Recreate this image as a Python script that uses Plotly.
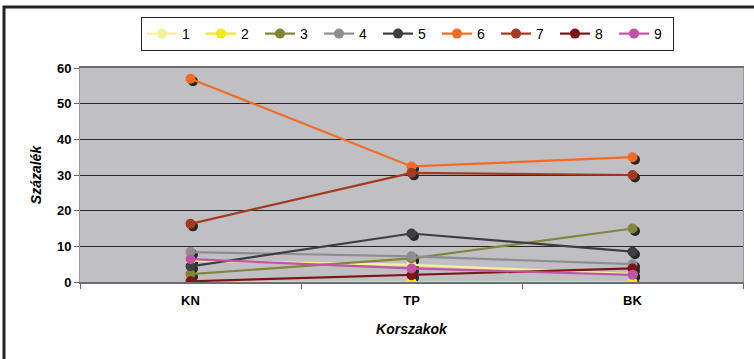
import plotly.graph_objects as go

# Periods (x categories) and share of each group (%) per period
periods = ["KN", "TP", "BK"]
series_names = ["1", "2", "3", "4", "5", "6", "7", "8", "9"]
s1 = [6.0, 4.8, 2.2]
s2 = [0.0, 0.0, 0.0]
s3 = [2.2, 6.6, 15.0]
s4 = [8.4, 7.2, 5.0]
s5 = [4.4, 13.6, 8.5]
s6 = [57.0, 32.4, 35.0]
s7 = [16.3, 30.6, 30.0]
s8 = [0.2, 1.9, 3.8]
s9 = [6.4, 3.8, 2.0]
values = [s1, s2, s3, s4, s5, s6, s7, s8, s9]
colors = ["#F7F29A", "#F2E81A", "#84843A", "#8E8E90", "#3E3E40",
          "#F36C23", "#A33B22", "#7E1417", "#C254A6"]

W, H = 754, 359
ML, MR, MT, MB = 80, 11, 68, 77
plot_w = W - ML - MR
plot_h = H - MT - MB

# drop-shadow offset (pixels) realised through a shifted copy of the axes
sh = 2.5
dx = sh * 3 / plot_w
dy = sh * 60 / plot_h

font = "Liberation Sans, Arial, sans-serif"
fig = go.Figure()

# shadows on the base axes (drawn underneath)
for vals in values:
    fig.add_trace(go.Scatter(
        x=periods, y=vals, mode="markers", xaxis="x", yaxis="y",
        marker=dict(size=10, color="#262626"), showlegend=False,
        hoverinfo="skip"))

# series on the overlaying axes
for name, vals, col in zip(series_names, values, colors):
    fig.add_trace(go.Scatter(
        x=periods, y=vals, name=name, mode="lines+markers",
        xaxis="x2", yaxis="y2",
        line=dict(color=col, width=2.2),
        marker=dict(size=10, color=col)))

fig.update_layout(
    width=W, height=H,
    margin=dict(l=ML, r=MR, t=MT, b=MB),
    paper_bgcolor="white",
    plot_bgcolor="#C0C0C4",
    font=dict(family=font, color="#000"),
    xaxis=dict(type="category", categoryarray=periods,
               range=[-0.5 - dx, 2.5 - dx], visible=False, fixedrange=True),
    yaxis=dict(range=[0 + dy, 60 + dy], visible=False, fixedrange=True),
    xaxis2=dict(type="category", categoryarray=periods, overlaying="x",
                side="bottom", range=[-0.5, 2.5], tickson="boundaries",
                ticks="outside", ticklen=5, tickcolor="#666",
                ticklabelstandoff=5,
                showgrid=False, showline=True, linecolor="#6E6E6E",
                linewidth=2, mirror=True,
                tickfont=dict(size=13, family=font, weight="bold"),
                title=dict(text="<b><i>Korszakok</i></b>", standoff=18,
                           font=dict(size=14))),
    yaxis2=dict(overlaying="y", side="left", range=[0, 60], dtick=10,
                ticks="outside", ticklen=5, tickcolor="#666",
                showgrid=True, gridcolor="#262626", gridwidth=1,
                zeroline=False, showline=True, linecolor="#999",
                linewidth=1, mirror=True,
                tickfont=dict(size=13, family=font, weight="bold"),
                title=dict(text="<b><i>Százalék</i></b>", standoff=12,
                           font=dict(size=14))),
    legend=dict(orientation="h", x=(141 - ML) / plot_w, xanchor="left",
                y=(H - MB - 17) / plot_h, yanchor="top",
                bgcolor="white", bordercolor="#222", borderwidth=1,
                font=dict(size=14, family=font),
                entrywidth=14, entrywidthmode="pixels",
                itemwidth=30, tracegroupgap=0),
    shapes=[dict(type="rect", xref="paper", yref="paper",
                 x0=(4 - ML) / plot_w, x1=1.2,
                 y0=-0.6, y1=(H - MB - 7) / plot_h,
                 line=dict(color="#222", width=3), layer="below")],
)

fig.write_html("out.html")
